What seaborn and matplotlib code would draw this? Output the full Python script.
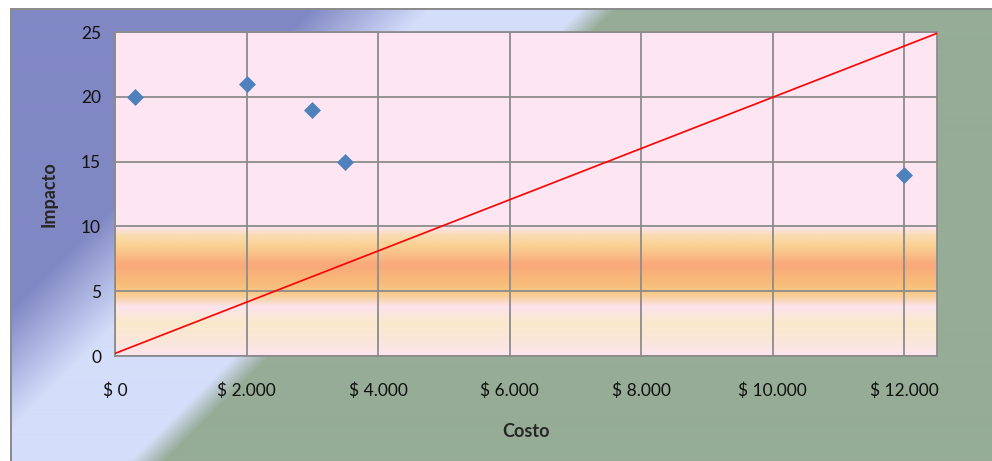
import numpy as np
import matplotlib
matplotlib.use("Agg")
import matplotlib.pyplot as plt
import seaborn as sns
from matplotlib.colors import to_rgb, LinearSegmentedColormap

costo = [300, 2000, 3000, 3500, 12000]
impacto = [20, 21, 19, 15, 14]
linea_x = [0, 12500]
linea_y = [0.2, 24.9]
x_ticks = [0, 2000, 4000, 6000, 8000, 10000, 12000]
y_ticks = [0, 5, 10, 15, 20, 25]

sns.set_style("white")
plt.rcParams["font.family"] = ["Lato", "DejaVu Sans"]

W, H = 992, 461
fig = plt.figure(figsize=(W / 100, H / 100), dpi=100)

# diagonal background of the chart area
yy, xx = np.mgrid[0:H, 0:W]
d = xx + yy
purple = np.array(to_rgb("#8088C4"))
light = np.array(to_rgb("#D4DEFA"))
green = np.array(to_rgb("#96AC96"))
t1 = np.clip((d - 320) / 120, 0, 1)[..., None]
t2 = np.clip((d - 590) / 35, 0, 1)[..., None]
img = purple * (1 - t1) + light * t1
img = img * (1 - t2) + green * t2
img[yy < 10] = 1.0
img[xx < 11] = 1.0
img[(yy >= 9) & (yy < 11) & (xx >= 10)] = to_rgb("#8C8C8C")
img[(xx >= 10) & (xx < 12) & (yy >= 9)] = to_rgb("#8C8C8C")
bg = fig.add_axes([0, 0, 1, 1])
bg.imshow(img, aspect="auto", origin="upper")
bg.axis("off")

ax = fig.add_axes([115 / W, 1 - 356 / H, (937 - 115) / W, (356 - 32) / H])
ax.set_facecolor("#FDE6F2")

# orange band between 0 and 10
stops = [(0.0, "#FDE4F0"), (0.10, "#FBE6DC"), (0.25, "#FAE9CB"), (0.38, "#FCE4EC"),
         (0.47, "#F9CC90"), (0.55, "#F8BE78"), (0.70, "#F9A87A"), (0.85, "#FAD092"),
         (0.93, "#FADCB0"), (1.0, "#FDE4F0")]
cmap = LinearSegmentedColormap.from_list("band", stops)
grad = np.linspace(0, 1, 200).reshape(-1, 1)
ax.imshow(grad, cmap=cmap, aspect="auto", origin="lower",
          extent=[0, 12500, 0, 10], zorder=0)

sns.lineplot(x=linea_x, y=linea_y, color="#FF0000", linewidth=1.2, ax=ax, zorder=3)
sns.scatterplot(x=costo, y=impacto, marker="D", s=75, color="#4F81BD",
                linewidth=0, ax=ax, zorder=4)

ax.set_xlim(0, 12500)
ax.set_ylim(0, 25)
ax.set_xticks(x_ticks)
ax.set_yticks(y_ticks)
ax.set_xticklabels(["$ " + f"{v:,.0f}".replace(",", ".") for v in x_ticks])
ax.grid(True, color="#8C8C8C", linewidth=1.3)
ax.set_axisbelow(True)
for s in ax.spines.values():
    s.set_color("#8C8C8C")
    s.set_linewidth(1.3)
ax.tick_params(axis="x", length=0, pad=19, labelsize=12.5, colors="#111111")
ax.tick_params(axis="y", length=0, pad=10, labelsize=12.5, colors="#111111")

ax.set_xlabel("Costo", fontsize=13, fontweight="bold", labelpad=17)
ax.set_ylabel("Impacto", fontsize=13, fontweight="bold", labelpad=17)

fig.savefig("out.png", dpi=100)
